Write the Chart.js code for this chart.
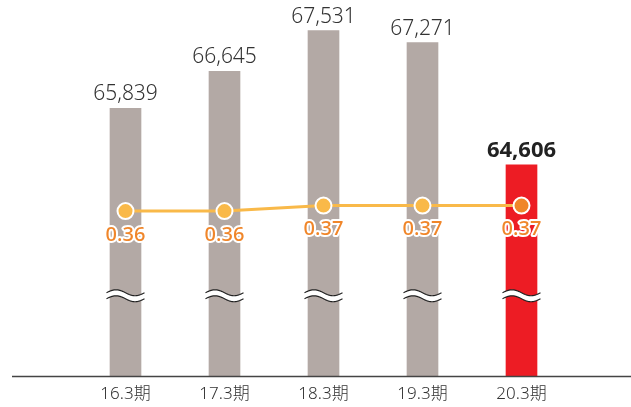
<!DOCTYPE html>
<html>
<head>
<meta charset="utf-8">
<script src="https://cdn.jsdelivr.net/npm/chart.js@4"></script>
<style>
  html, body { margin: 0; padding: 0; background: #fff; }
  #wrap { width: 631px; height: 407px; }
</style>
</head>
<body>
<div id="wrap"><canvas id="c" width="631" height="407"></canvas></div>
<script>
// Fiscal periods
const periods = ['16.3期', '17.3期', '18.3期', '19.3期', '20.3期'];
// Bar series (values)
const barValues = [65839, 66645, 67531, 67271, 64606];
// Line series (ratio)
const lineValues = [0.36, 0.36, 0.37, 0.37, 0.37];

const FONT = '"Noto Sans", "Noto Sans CJK JP", sans-serif';
const GREY = '#b3a9a5';
const RED = '#ed1c24';
const LINE = '#f9b949';
const ORANGE = '#f0862a';

const barColors = barValues.map((v, i) => i === barValues.length - 1 ? RED : GREY);
const pointFills = lineValues.map((v, i) => i === lineValues.length - 1 ? ORANGE : LINE);

// Baseline, break marks and value labels
const decor = {
  id: 'decor',
  afterDatasetsDraw(chart) {
    const ctx = chart.ctx;
    const area = chart.chartArea;
    const y = chart.scales.y;
    const barMeta = chart.getDatasetMeta(0);
    const lineMeta = chart.getDatasetMeta(1);

    // baseline across the plot
    ctx.save();
    ctx.strokeStyle = '#444';
    ctx.lineWidth = 1.3;
    ctx.beginPath();
    ctx.moveTo(12, Math.round(area.bottom) + 0.5);
    ctx.lineTo(chart.width, Math.round(area.bottom) + 0.5);
    ctx.stroke();
    ctx.restore();

    // axis break marks on each bar
    const breakY = y.getPixelForValue(61750);
    barMeta.data.forEach(bar => {
      const cx = bar.x, half = 19, amp = 3, gap = 6;
      const wave = (off) => {
        const pts = [];
        for (let k = 0; k <= 40; k++) {
          const t = k / 40;
          pts.push([cx - half + t * 2 * half, breakY + off - amp * Math.sin(t * 2 * Math.PI)]);
        }
        return pts;
      };
      const top = wave(-gap / 2), bot = wave(gap / 2);
      ctx.save();
      ctx.fillStyle = '#fff';
      ctx.beginPath();
      top.forEach((p, i) => i ? ctx.lineTo(p[0], p[1]) : ctx.moveTo(p[0], p[1]));
      bot.slice().reverse().forEach(p => ctx.lineTo(p[0], p[1]));
      ctx.closePath();
      ctx.fill();
      ctx.strokeStyle = '#222';
      ctx.lineWidth = 1.2;
      [top, bot].forEach(pts => {
        ctx.beginPath();
        pts.forEach((p, i) => i ? ctx.lineTo(p[0], p[1]) : ctx.moveTo(p[0], p[1]));
        ctx.stroke();
      });
      ctx.restore();
    });

    // bar value labels
    ctx.save();
    ctx.textAlign = 'center';
    ctx.textBaseline = 'alphabetic';
    barMeta.data.forEach((bar, i) => {
      const last = i === barValues.length - 1;
      ctx.font = last ? 'bold 22px ' + FONT : '300 21px ' + FONT;
      ctx.fillStyle = last ? '#222' : '#333';
      ctx.fillText(barValues[i].toLocaleString('en-US'), bar.x, bar.y - 8);
    });
    ctx.restore();

    // ratio labels
    ctx.save();
    ctx.textAlign = 'center';
    ctx.textBaseline = 'middle';
    ctx.font = '500 20px ' + FONT;
    ctx.lineJoin = 'round';
    lineMeta.data.forEach((pt, i) => {
      const txt = lineValues[i].toFixed(2);
      ctx.strokeStyle = '#fff';
      ctx.lineWidth = 4;
      ctx.strokeText(txt, pt.x, pt.y + 24);
      ctx.fillStyle = ORANGE;
      ctx.fillText(txt, pt.x, pt.y + 24);
    });
    ctx.restore();
  }
};

new Chart(document.getElementById('c'), {
  data: {
    labels: periods,
    datasets: [
      {
        type: 'bar',
        data: barValues,
        backgroundColor: barColors,
        barThickness: 31,
        yAxisID: 'y',
        order: 2
      },
      {
        type: 'line',
        data: lineValues,
        borderColor: LINE,
        borderWidth: 3,
        pointRadius: 8,
        pointBorderWidth: 2,
        pointBorderColor: '#fff',
        pointBackgroundColor: pointFills,
        yAxisID: 'y2',
        order: 1,
        clip: false
      }
    ]
  },
  options: {
    responsive: false,
    animation: false,
    layout: { autoPadding: false, padding: { left: 76, right: 60, top: 0, bottom: 0 } },
    plugins: { legend: { display: false }, tooltip: { enabled: false } },
    scales: {
      x: {
        grid: { display: false, drawTicks: false },
        border: { display: false },
        ticks: { color: '#333', font: { family: FONT, size: 17, weight: '300' }, padding: 8, maxRotation: 0 },
        afterFit(scale) { scale.height = 31; }
      },
      y: { display: false, min: 60000, max: 68200 },
      y2: { display: false, min: 0.06, max: 0.744 }
    }
  },
  plugins: [decor]
});
</script>
</body>
</html>
